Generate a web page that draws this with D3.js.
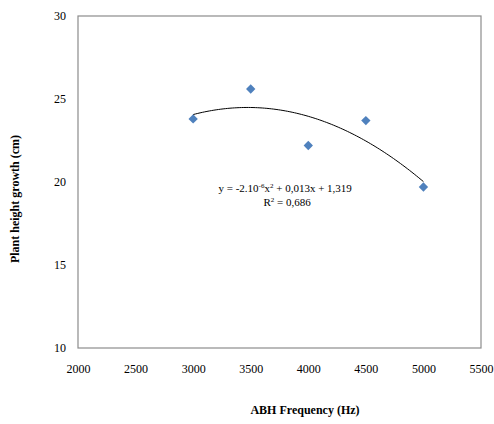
<!DOCTYPE html>
<meta charset="utf-8">
<style>
body { margin: 0; background: #fff; }
</style>
<script src="https://d3js.org/d3.v7.min.js"></script>
<body>
<div id="chart"></div>
</body>
<script>

// data
var freq = [3000, 3500, 4000, 4500, 5000];
var growth = [23.8, 25.6, 22.2, 23.7, 19.7];
var xTicks = [2000, 2500, 3000, 3500, 4000, 4500, 5000, 5500];
var yTicks = [10, 15, 20, 25, 30];
var eqLabel = ["y = -2.10", "-6", "x", "2", " + 0,013x + 1,319"];
var r2Label = ["R", "2", " = 0,686"];

var serif = "'Liberation Serif', 'DejaVu Serif', serif";

var W = 494, H = 424;
var margin = {top: 16, right: 13, bottom: 76, left: 78},
    width = W - margin.left - margin.right,
    height = H - margin.top - margin.bottom;

var svg = d3.select("#chart").append("svg")
    .attr("width", W)
    .attr("height", H)
    .style("font-family", serif);

var g = svg.append("g")
    .attr("transform", "translate(" + margin.left + "," + margin.top + ")");

var x = d3.scaleLinear().domain([2000, 5500]).range([0, width]);
var y = d3.scaleLinear().domain([10, 30]).range([height, 0]);

// plot frame
g.append("rect")
    .attr("x", 0).attr("y", 0)
    .attr("width", width).attr("height", height)
    .attr("fill", "none")
    .attr("stroke", "#8c8c8c")
    .attr("stroke-width", 1.2);

// x axis labels
var xAxis = g.append("g")
    .attr("transform", "translate(0," + height + ")")
    .call(d3.axisBottom(x).tickValues(xTicks).tickSize(0).tickPadding(16).tickFormat(d3.format("d")));
xAxis.select(".domain").remove();
xAxis.attr("font-family", null).attr("font-size", null);
xAxis.selectAll("text").style("font-family", serif).style("font-size", "12px").attr("fill", "#000");

// y axis labels
var yAxis = g.append("g")
    .call(d3.axisLeft(y).tickValues(yTicks).tickSize(0).tickPadding(12));
yAxis.select(".domain").remove();
yAxis.attr("font-family", null).attr("font-size", null);
yAxis.selectAll("text").style("font-family", serif).style("font-size", "12px").attr("fill", "#000");

// least squares quadratic trendline from the points
function polyfit2(xs, ys) {
  var n = xs.length, s = [0, 0, 0, 0, 0], t = [0, 0, 0];
  for (var i = 0; i < n; i++) {
    var p = 1;
    for (var k = 0; k < 5; k++) { s[k] += p; if (k < 3) t[k] += p * ys[i]; p *= xs[i]; }
  }
  var A = [[s[0], s[1], s[2], t[0]], [s[1], s[2], s[3], t[1]], [s[2], s[3], s[4], t[2]]];
  for (var c = 0; c < 3; c++) {
    for (var r = c + 1; r < 3; r++) {
      var f = A[r][c] / A[c][c];
      for (var j = c; j < 4; j++) A[r][j] -= f * A[c][j];
    }
  }
  var coef = [0, 0, 0];
  for (var r2 = 2; r2 >= 0; r2--) {
    var v = A[r2][3];
    for (var j2 = r2 + 1; j2 < 3; j2++) v -= A[r2][j2] * coef[j2];
    coef[r2] = v / A[r2][r2];
  }
  return coef;
}
// fit on centred x for numerical stability
var xc = freq.map(function(d) { return (d - 4000) / 500; });
var cf = polyfit2(xc, growth);
var trend = d3.range(3000, 5001, 20).map(function(v) {
  var t = (v - 4000) / 500;
  return [v, cf[0] + cf[1] * t + cf[2] * t * t];
});

g.append("path")
    .datum(trend)
    .attr("fill", "none")
    .attr("stroke", "#000")
    .attr("stroke-width", 1)
    .attr("d", d3.line().x(function(d) { return x(d[0]); }).y(function(d) { return y(d[1]); }));

// diamond markers
g.selectAll(".pt")
    .data(freq)
  .enter().append("path")
    .attr("class", "pt")
    .attr("transform", function(d, i) { return "translate(" + x(d) + "," + y(growth[i]) + ") rotate(45)"; })
    .attr("d", "M-3.3,-3.3h6.6v6.6h-6.6z")
    .attr("fill", "#4f81bd");

// equation text
var eq = g.append("text")
    .attr("x", x(3220))
    .attr("y", y(19.4))
    .style("font-size", "11px");
eq.append("tspan").text(eqLabel[0]);
eq.append("tspan").attr("dy", -4).style("font-size", "7px").text(eqLabel[1]);
eq.append("tspan").attr("dy", 4).text(eqLabel[2]);
eq.append("tspan").attr("dy", -4).style("font-size", "7px").text(eqLabel[3]);
eq.append("tspan").attr("dy", 4).text(eqLabel[4]);

var r2 = g.append("text")
    .attr("x", x(3610))
    .attr("y", y(18.55))
    .style("font-size", "11px");
r2.append("tspan").text(r2Label[0]);
r2.append("tspan").attr("dy", -4).style("font-size", "7px").text(r2Label[1]);
r2.append("tspan").attr("dy", 4).text(r2Label[2]);

// axis titles
svg.append("text")
    .attr("x", 305)
    .attr("y", 414)
    .attr("text-anchor", "middle")
    .style("font-size", "12px")
    .style("font-weight", "bold")
    .text("ABH Frequency (Hz)");

svg.append("text")
    .attr("transform", "translate(19,199) rotate(-90)")
    .attr("text-anchor", "middle")
    .style("font-size", "12px")
    .style("font-weight", "bold")
    .text("Plant height growth (cm)");

</script>
